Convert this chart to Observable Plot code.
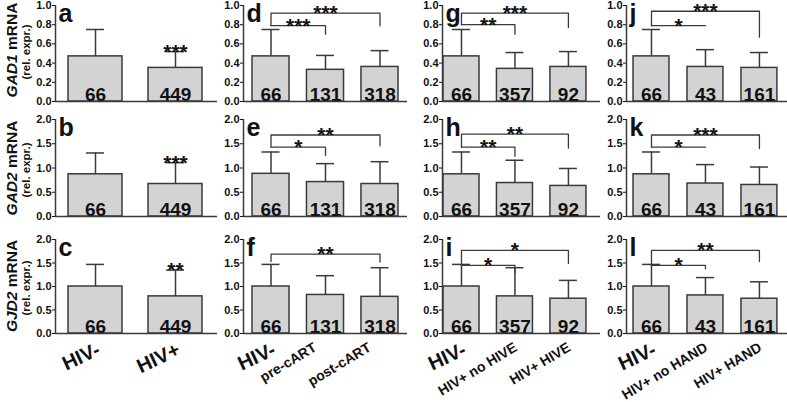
<!DOCTYPE html>
<html><head><meta charset="utf-8">
<script src="https://cdn.jsdelivr.net/npm/d3@7"></script>
<script src="https://cdn.jsdelivr.net/npm/@observablehq/plot@0.6"></script>
<style>
html,body{margin:0;padding:0;background:#fff;}
#chart{position:relative;width:787px;height:402px;overflow:hidden;font-family:"Liberation Sans",Arial,sans-serif;background:#fff;}
#chart svg{position:absolute;overflow:visible;background:transparent;}
.yt{position:absolute;width:140px;height:18px;line-height:18px;text-align:center;transform:rotate(-90deg);font-weight:bold;white-space:nowrap;color:#111;}
</style></head><body><div id="chart"></div>
<script>
// ---------- data ----------
const genes = ["GAD1", "GAD2", "GJD2"];
const catsA = ["HIV-", "HIV+"];
const catsD = ["HIV-", "pre-cART", "post-cART"];
const catsG = ["HIV-", "HIV+ no HIVE", "HIV+ HIVE"];
const catsJ = ["HIV-", "HIV+ no HAND", "HIV+ HAND"];
const nA = [66, 449];
const nD = [66, 131, 318];
const nG = [66, 357, 92];
const nJ = [66, 43, 161];
const yTicksGAD1 = [0, 0.2, 0.4, 0.6, 0.8, 1.0];
const yTicksOther = [0, 0.5, 1.0, 1.5, 2.0];

// GAD1 (means, upper end of error bar)
const meanA = [0.47, 0.35], upperA = [0.75, 0.52];
const meanD = [0.47, 0.33, 0.36], upperD = [0.75, 0.48, 0.53];
const meanG = [0.47, 0.34, 0.36], upperG = [0.75, 0.51, 0.52];
const meanJ = [0.47, 0.36, 0.35], upperJ = [0.75, 0.54, 0.51];
// GAD2
const meanB = [0.87, 0.67], upperB = [1.31, 1.11];
const meanE = [0.88, 0.71, 0.67], upperE = [1.33, 1.09, 1.13];
const meanH = [0.87, 0.69, 0.63], upperH = [1.33, 1.16, 0.99];
const meanK = [0.87, 0.68, 0.65], upperK = [1.33, 1.07, 1.02];
// GJD2
const meanC = [1.00, 0.79], upperC = [1.47, 1.35];
const meanF = [1.00, 0.82, 0.78], upperF = [1.47, 1.23, 1.40];
const meanI = [1.00, 0.79, 0.74], upperI = [1.47, 1.40, 1.13];
const meanL = [1.00, 0.81, 0.74], upperL = [1.47, 1.19, 1.10];

// significance on two-group panels
const starsA = ["", "***"];
const starsB = ["", "***"];
const starsC = ["", "**"];

// significance brackets: from/to group, bracket level, left/right leg ends
const bracketsD = [{from: 0, to: 2, level: 0.92, leftEnd: 0.79, rightEnd: 0.79, label: "***"},
                   {from: 0, to: 1, level: 0.79, leftEnd: 0.79, rightEnd: 0.70, label: "***"}];
const bracketsG = [{from: 0, to: 2, level: 0.92, leftEnd: 0.80, rightEnd: 0.77, label: "***"},
                   {from: 0, to: 1, level: 0.80, leftEnd: 0.80, rightEnd: 0.70, label: "**"}];
const bracketsJ = [{from: 0, to: 2, level: 0.94, leftEnd: 0.79, rightEnd: 0.67, label: "***"},
                   {from: 0, to: 1, level: 0.79, leftEnd: 0.79, rightEnd: 0.79, label: "*"}];
const bracketsE = [{from: 0, to: 2, level: 1.68, leftEnd: 1.43, rightEnd: 1.46, label: "**"},
                   {from: 0, to: 1, level: 1.43, leftEnd: 1.43, rightEnd: 1.26, label: "*"}];
const bracketsH = [{from: 0, to: 2, level: 1.70, leftEnd: 1.43, rightEnd: 1.41, label: "**"},
                   {from: 0, to: 1, level: 1.43, leftEnd: 1.43, rightEnd: 1.24, label: "**"}];
const bracketsK = [{from: 0, to: 2, level: 1.68, leftEnd: 1.43, rightEnd: 1.40, label: "***"},
                   {from: 0, to: 1, level: 1.43, leftEnd: 1.43, rightEnd: 1.43, label: "*"}];
const bracketsF = [{from: 0, to: 2, level: 1.69, leftEnd: 1.53, rightEnd: 1.52, label: "**"}];
const bracketsI = [{from: 0, to: 2, level: 1.77, leftEnd: 1.45, rightEnd: 1.49, label: "*"},
                   {from: 0, to: 1, level: 1.45, leftEnd: 1.45, rightEnd: 1.30, label: "*"}];
const bracketsL = [{from: 0, to: 2, level: 1.77, leftEnd: 1.45, rightEnd: 1.53, label: "**"},
                   {from: 0, to: 1, level: 1.45, leftEnd: 1.45, rightEnd: 1.38, label: "*"}];

// ---------- panel table built from the arrays ----------
const panels = [
  {letter: "a", row: 0, col: 0, cats: catsA, n: nA, mean: meanA, upper: upperA, stars: starsA, brackets: []},
  {letter: "b", row: 1, col: 0, cats: catsA, n: nA, mean: meanB, upper: upperB, stars: starsB, brackets: []},
  {letter: "c", row: 2, col: 0, cats: catsA, n: nA, mean: meanC, upper: upperC, stars: starsC, brackets: []},
  {letter: "d", row: 0, col: 1, cats: catsD, n: nD, mean: meanD, upper: upperD, stars: null, brackets: bracketsD},
  {letter: "e", row: 1, col: 1, cats: catsD, n: nD, mean: meanE, upper: upperE, stars: null, brackets: bracketsE},
  {letter: "f", row: 2, col: 1, cats: catsD, n: nD, mean: meanF, upper: upperF, stars: null, brackets: bracketsF},
  {letter: "g", row: 0, col: 2, cats: catsG, n: nG, mean: meanG, upper: upperG, stars: null, brackets: bracketsG},
  {letter: "h", row: 1, col: 2, cats: catsG, n: nG, mean: meanH, upper: upperH, stars: null, brackets: bracketsH},
  {letter: "i", row: 2, col: 2, cats: catsG, n: nG, mean: meanI, upper: upperI, stars: null, brackets: bracketsI},
  {letter: "j", row: 0, col: 3, cats: catsJ, n: nJ, mean: meanJ, upper: upperJ, stars: null, brackets: bracketsJ},
  {letter: "k", row: 1, col: 3, cats: catsJ, n: nJ, mean: meanK, upper: upperK, stars: null, brackets: bracketsK},
  {letter: "l", row: 2, col: 3, cats: catsJ, n: nJ, mean: meanL, upper: upperL, stars: null, brackets: bracketsL}
];

// ---------- layout ----------
const rows = [
  {top: 0,   mt: 5,  mb: 4,  h: 105, max: 1, ticks: yTicksGAD1},
  {top: 110, mt: 9,  mb: 4,  h: 110, max: 2, ticks: yTicksOther},
  {top: 225, mt: 14, mb: 69, h: 177, max: 2, ticks: yTicksOther}
];
const cols = [
  {left: 0,   w: 217, ml: 55, dom: [-0.5, 1.525],   bh: 0.3375, ch: 0.1125, ldx: -1},
  {left: 190, w: 217, ml: 53, dom: [-0.505, 2.505], bh: 0.34,   ch: 0.165,  ldx: -13},
  {left: 400, w: 200, ml: 42, dom: [-0.355, 2.6],   bh: 0.337,  ch: 0.168,  ldx: -2},
  {left: 590, w: 197, ml: 36, dom: [-0.463, 2.52],  bh: 0.333,  ch: 0.167,  ldx: -2}
];
const FONT = "'Liberation Sans', Arial, sans-serif";
const INK = "#111";
const LINE = "#3a3a3a";

const chart = document.getElementById("chart");

for (const p of panels) {
  const R = rows[p.row], C = cols[p.col];
  const idx = d3.range(p.cats.length);
  const bpts = p.brackets.flatMap((b, k) => [
    {k, x: b.from, y: b.leftEnd}, {k, x: b.from, y: b.level},
    {k, x: b.to, y: b.level}, {k, x: b.to, y: b.rightEnd}
  ]);
  const marks = [
    Plot.ruleX(idx, {x: i => i, y1: i => p.mean[i], y2: i => p.upper[i], stroke: LINE, strokeWidth: 1.5}),
    Plot.ruleY(idx, {y: i => p.upper[i], x1: i => i - C.ch, x2: i => i + C.ch, stroke: LINE, strokeWidth: 1.5}),
    Plot.rectY(idx, {x1: i => i - C.bh, x2: i => i + C.bh, y1: 0, y2: i => p.mean[i], fill: "#d3d3d3", stroke: LINE, strokeWidth: 1.5}),
    Plot.text(idx, {x: i => i, y: 0, text: i => String(p.n[i]), lineAnchor: "bottom", dy: -1, fontSize: 19, fontWeight: "bold", fill: INK}),
    Plot.ruleY([0], {stroke: LINE, strokeWidth: 1.5}),
    Plot.ruleX([C.dom[0]], {stroke: LINE, strokeWidth: 1.5}),
    Plot.text([p.letter], {text: d => d, frameAnchor: "top-left", lineAnchor: "top", textAnchor: "start", dx: 3, dy: -1, fontSize: 25, fontWeight: "bold", fill: INK}),
    Plot.line(bpts, {x: "x", y: "y", z: "k", stroke: LINE, strokeWidth: 1.3}),
    Plot.text(p.brackets, {x: b => (b.from + b.to) / 2, y: b => b.level, text: "label", lineAnchor: "bottom", dy: 7, fontSize: 21, fontWeight: "bold", fill: INK})
  ];
  if (p.stars) {
    marks.push(Plot.text(idx.filter(i => p.stars[i]), {x: i => i, y: i => p.upper[i], text: i => p.stars[i], lineAnchor: "bottom", dy: 7, fontSize: 21, fontWeight: "bold", fill: INK}));
  }
  if (p.row === 2) {
    const big = idx.filter(i => p.cats[i].length <= 4);
    const small = idx.filter(i => p.cats[i].length > 4);
    marks.push(Plot.text(big, {x: i => i, y: 0, text: i => p.cats[i], rotate: -25, textAnchor: "end", lineAnchor: "top", dx: 0, dy: 8, fontSize: 20, fontWeight: "bold", fill: INK}));
    marks.push(Plot.text(small, {x: i => i, y: 0, text: i => p.cats[i], rotate: -31, textAnchor: "end", lineAnchor: "top", dx: C.ldx, dy: 8, fontSize: 14, fontWeight: "bold", fill: INK}));
  }
  const svg = Plot.plot({
    width: C.w, height: R.h,
    marginLeft: C.ml, marginRight: 0, marginTop: R.mt, marginBottom: R.mb,
    x: {domain: C.dom, axis: null},
    y: {domain: [0, R.max], ticks: R.ticks, tickFormat: d3.format(".1f"), tickSize: 3, tickPadding: 1, label: null},
    style: {fontFamily: FONT, fontSize: "11px", fontWeight: "bold", color: INK, background: "transparent", overflow: "visible"},
    marks
  });
  svg.style.left = C.left + "px";
  svg.style.top = R.top + "px";
  chart.appendChild(svg);
}

// y-axis titles (HTML text, rotated)
const titleCenters = [50, 168, 286];
genes.forEach((g, r) => {
  const t = document.createElement("div");
  t.className = "yt";
  t.style.fontSize = "15.5px";
  t.style.left = (12 - 70) + "px";
  t.style.top = (titleCenters[r] - 9) + "px";
  t.innerHTML = "<i>" + g + "</i> mRNA";
  chart.appendChild(t);
  const s = document.createElement("div");
  s.className = "yt";
  s.style.fontSize = "11.5px";
  s.style.left = (26 - 70) + "px";
  s.style.top = (titleCenters[r] + 2 - 9) + "px";
  s.textContent = "(rel. expr.)";
  chart.appendChild(s);
});
</script></body></html>
